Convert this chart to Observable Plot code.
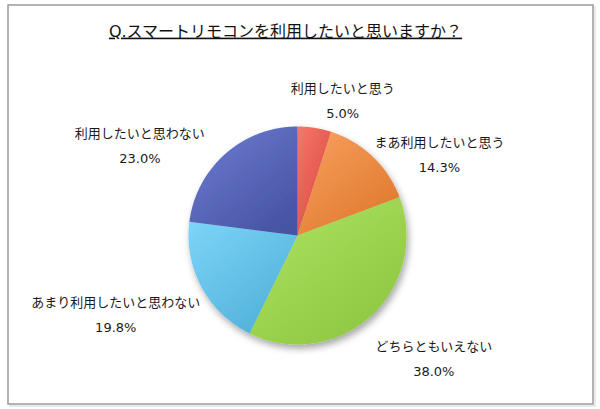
<!DOCTYPE html>
<html><head><meta charset="utf-8">
<script src="https://cdn.jsdelivr.net/npm/d3@7"></script>
<script src="https://cdn.jsdelivr.net/npm/@observablehq/plot@0.6"></script>
<style>
body{margin:0;background:#fff;}
#chart{width:600px;height:409px;}
.ttl{text-decoration:underline;text-decoration-thickness:1.5px;text-underline-offset:3px;}
</style></head><body><div id="chart"></div>
<script>
const title = "Q.スマートリモコンを利用したいと思いますか？";
const categories = ["利用したいと思う","まあ利用したいと思う","どちらともいえない","あまり利用したいと思わない","利用したいと思わない"];
const values = [5.0, 14.3, 38.0, 19.8, 23.0];

// styling / layout (not data)
const colorsLight = ["#f7776c","#f8a160","#aee463","#7dd5f8","#6f7ed2"];
const colorsDark  = ["#d9463b","#df772c","#8dc63f","#4fafd8","#4653a3"];
const labelNudge = [[23,2],[44,18],[41,15],[-57,9],[-64,13]];
const W = 600, H = 409, cx = 297, cy = 235, r = 109;

const arcs = d3.pie().sort(null).value(d => d)(values);
const slicePts = [];
arcs.forEach((a, i) => {
  slicePts.push({i, x: cx, y: cy});
  const n = Math.max(4, Math.ceil((a.endAngle - a.startAngle) / (Math.PI / 360)));
  for (let k = 0; k <= n; k++) {
    const t = a.startAngle + (a.endAngle - a.startAngle) * k / n;
    slicePts.push({i, x: cx + r * Math.sin(t), y: cy - r * Math.cos(t)});
  }
  slicePts.push({i, x: cx, y: cy});
});
const labels = arcs.map((a, i) => {
  const m = (a.startAngle + a.endAngle) / 2;
  return {
    x: cx + 1.3 * r * Math.sin(m) + labelNudge[i][0],
    y: cy - 1.3 * r * Math.cos(m) + labelNudge[i][1],
    text: `${categories[i]}\n${values[i].toFixed(1)}%`
  };
});

const chart = Plot.plot({
  width: W, height: H, margin: 0,
  style: {fontFamily: "'DejaVu Sans', 'Noto Sans CJK JP', sans-serif", background: "#fff", color: "#222"},
  x: {domain: [0, W], range: [0, W], axis: null},
  y: {domain: [0, H], range: [0, H], axis: null},
  color: {type: "identity"},
  marks: [
    Plot.frame({stroke: "#e2e2e2", strokeWidth: 1.5, insetLeft: 9.5, insetTop: 6.5, insetRight: 5.5, insetBottom: 3.5}),
    Plot.frame({stroke: "#9a9a9a", strokeWidth: 1.5, insetLeft: 7.5, insetTop: 4.5, insetRight: 7.5, insetBottom: 5.5, fill: "#fff"}),
    Plot.line(slicePts, {x: "x", y: "y", z: "i", fill: d => `url(#sg${d.i})`, stroke: "none", curve: "linear"}),
    Plot.text(labels, {x: "x", y: "y", text: "text", fontSize: 13, lineHeight: 1.92, fill: "#1a1a1a", textAnchor: "middle"}),
    Plot.text([title], {frameAnchor: "top", dx: -15, dy: 31, lineAnchor: "middle", fontSize: 16, fill: "#111", text: d => d})
  ]
});
document.getElementById("chart").appendChild(chart);

const svg = d3.select(chart);
const defs = svg.insert("defs", ":first-child");
colorsLight.forEach((c, i) => {
  const g = defs.append("linearGradient").attr("id", `sg${i}`)
    .attr("x1", 0).attr("y1", 0).attr("x2", 0.8).attr("y2", 1);
  g.append("stop").attr("offset", "0%").attr("stop-color", c);
  g.append("stop").attr("offset", "100%").attr("stop-color", colorsDark[i]);
});
const f = defs.append("filter").attr("id", "pieShadow").attr("x", "-20%").attr("y", "-20%").attr("width", "140%").attr("height", "140%");
f.append("feDropShadow").attr("dx", 2).attr("dy", 4).attr("stdDeviation", 3.5).attr("flood-color", "#000").attr("flood-opacity", 0.35);
svg.selectAll("g[aria-label='line']").attr("filter", "url(#pieShadow)");
svg.selectAll("text").filter(function() { return this.textContent === title; })
  .attr("class", "ttl");
</script>
</body></html>
